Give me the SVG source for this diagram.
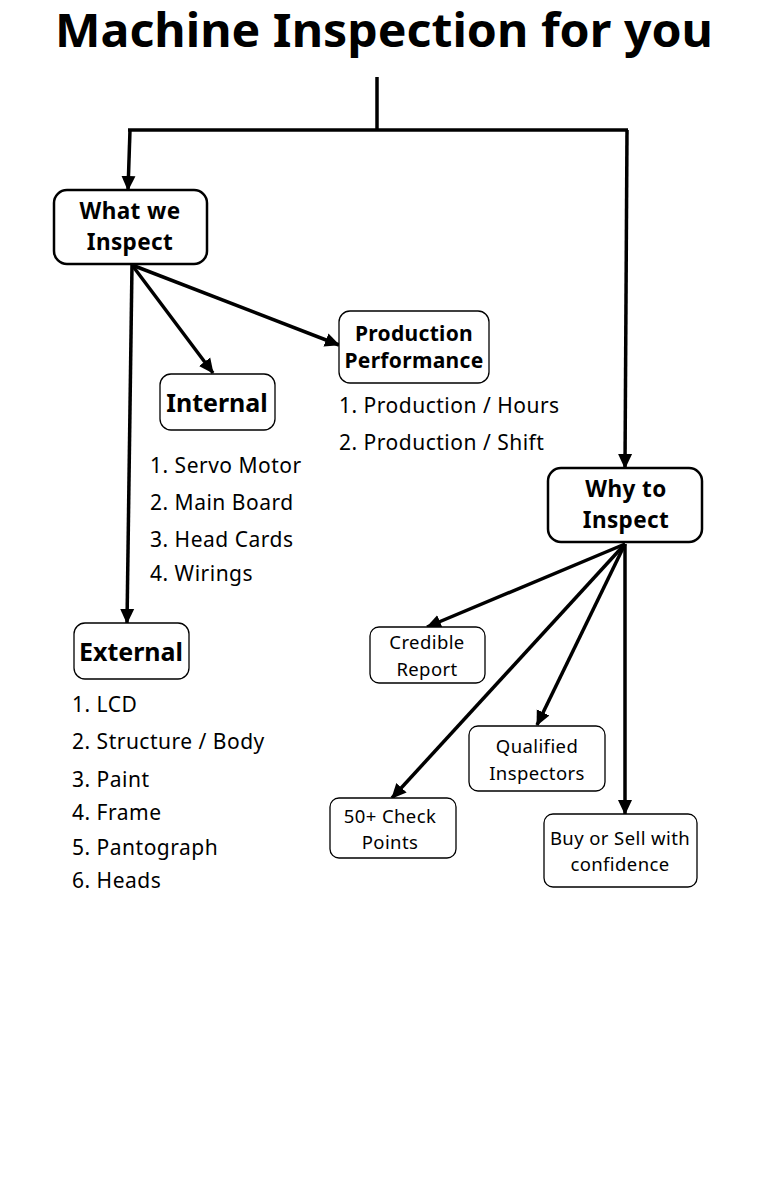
<svg xmlns="http://www.w3.org/2000/svg" width="768" height="1177" viewBox="0 0 768 1177">
<style>
.box{fill:#fff;stroke:#000}
.big{stroke-width:2.5}
.sm{stroke-width:1.3}
.t{font-family:"Noto Sans","Open Sans",sans-serif;fill:#000}
.b{font-weight:bold}
.hd{font-size:22.5px;letter-spacing:0.4px}
.li{font-size:21px;letter-spacing:0.5px}
.bx{font-size:18.5px;letter-spacing:0.4px}
.edge{stroke:#000;stroke-width:3.5;fill:none}
</style>
<defs>
<marker id="ah" markerUnits="userSpaceOnUse" markerWidth="16" markerHeight="16" viewBox="0 0 16 16" refX="14" refY="8" orient="auto">
<path d="M0,1 L15,8 L0,15 Z" fill="#000"/>
</marker>
</defs>
<rect width="768" height="1177" fill="#fff"/>
<text class="t b" x="384" y="47" font-size="46" text-anchor="middle" textLength="658" lengthAdjust="spacingAndGlyphs">Machine Inspection for you</text>
<g id="connectors">
<polyline class="edge" points="377,77 377,130"/>
<polyline class="edge" points="128,130 628,130"/>
<line class="edge" x1="130" y1="130" x2="128" y2="190" marker-end="url(#ah)"/>
<line class="edge" x1="627" y1="130" x2="625" y2="468" marker-end="url(#ah)"/>
<line class="edge" x1="132" y1="265" x2="213" y2="373" marker-end="url(#ah)"/>
<line class="edge" x1="132" y1="265" x2="339" y2="345" marker-end="url(#ah)"/>
<line class="edge" x1="132" y1="265" x2="127" y2="623" marker-end="url(#ah)"/>
<line class="edge" x1="625" y1="544" x2="427" y2="627" marker-end="url(#ah)"/>
<line class="edge" x1="625" y1="544" x2="537" y2="725" marker-end="url(#ah)"/>
<line class="edge" x1="625" y1="544" x2="392" y2="798" marker-end="url(#ah)"/>
<line class="edge" x1="625" y1="544" x2="625" y2="814" marker-end="url(#ah)"/>
</g>
<g id="what">
<rect class="box big" x="54" y="190" width="153" height="74" rx="13"/>
<text class="t b hd" x="130" y="219" text-anchor="middle">What we</text>
<text class="t b hd" x="130" y="250" text-anchor="middle">Inspect</text>
</g>
<g id="internal">
<rect class="box sm" x="160" y="374" width="115" height="56" rx="11"/>
<text class="t b" x="217" y="412" font-size="25" text-anchor="middle">Internal</text>
<text class="t li" x="150" y="473">1. Servo Motor</text>
<text class="t li" x="150" y="510">2. Main Board</text>
<text class="t li" x="150" y="547">3. Head Cards</text>
<text class="t li" x="150" y="581">4. Wirings</text>
</g>
<g id="production">
<rect class="box sm" x="339" y="311" width="150" height="72" rx="11"/>
<text class="t b" x="414" y="341" font-size="21" letter-spacing="0.3" text-anchor="middle">Production</text>
<text class="t b" x="414" y="368" font-size="21" letter-spacing="0.3" text-anchor="middle">Performance</text>
<text class="t li" x="339" y="413">1. Production / Hours</text>
<text class="t li" x="339" y="450">2. Production / Shift</text>
</g>
<g id="external">
<rect class="box sm" x="74" y="623" width="115" height="56" rx="11"/>
<text class="t b" x="131" y="661" font-size="25" text-anchor="middle">External</text>
<text class="t li" x="72" y="712">1. LCD</text>
<text class="t li" x="72" y="749">2. Structure / Body</text>
<text class="t li" x="72" y="787">3. Paint</text>
<text class="t li" x="72" y="820">4. Frame</text>
<text class="t li" x="72" y="855">5. Pantograph</text>
<text class="t li" x="72" y="888">6. Heads</text>
</g>
<g id="why">
<rect class="box big" x="548" y="468" width="154" height="74" rx="13"/>
<text class="t b hd" x="626" y="497" text-anchor="middle">Why to</text>
<text class="t b hd" x="626" y="528" text-anchor="middle">Inspect</text>
</g>
<g id="credible">
<rect class="box sm" x="370" y="627" width="115" height="56" rx="9"/>
<text class="t bx" x="427" y="649" text-anchor="middle">Credible</text>
<text class="t bx" x="427" y="676" text-anchor="middle">Report</text>
</g>
<g id="qualified">
<rect class="box sm" x="469" y="726" width="136" height="65" rx="9"/>
<text class="t bx" x="537" y="753" text-anchor="middle">Qualified</text>
<text class="t bx" x="537" y="780" text-anchor="middle">Inspectors</text>
</g>
<g id="checkpoints">
<rect class="box sm" x="330" y="798" width="126" height="60" rx="9"/>
<text class="t bx" x="390" y="823" text-anchor="middle">50+ Check</text>
<text class="t bx" x="390" y="849" text-anchor="middle">Points</text>
</g>
<g id="buysell">
<rect class="box sm" x="544" y="814" width="153" height="73" rx="9"/>
<text class="t bx" x="620" y="845" text-anchor="middle">Buy or Sell with</text>
<text class="t bx" x="620" y="871" text-anchor="middle">confidence</text>
</g>
</svg>
